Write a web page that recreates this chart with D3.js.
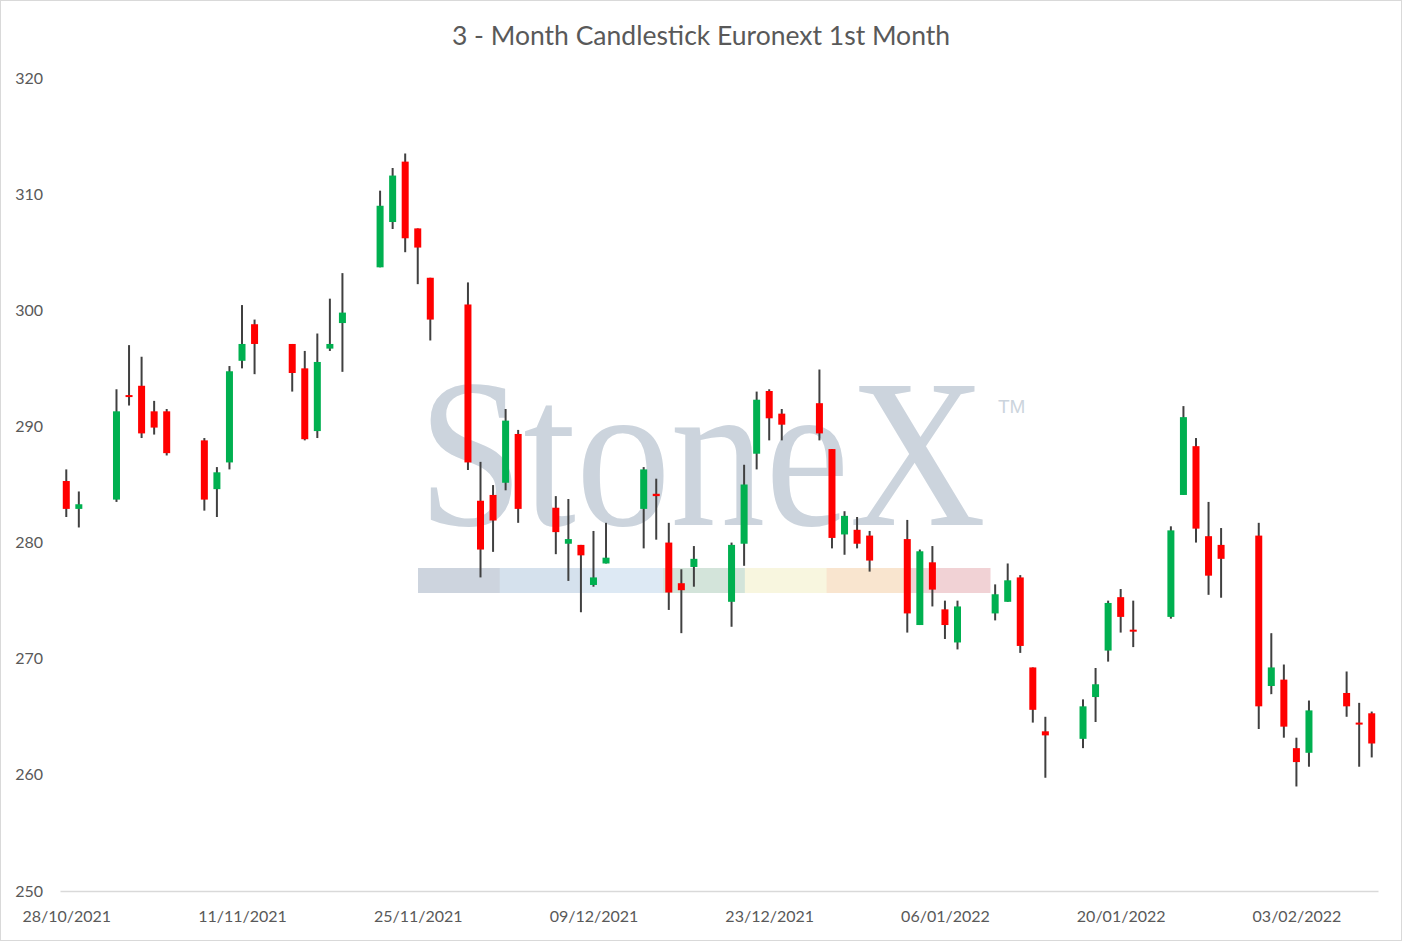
<!DOCTYPE html>
<html>
<head>
<meta charset="utf-8">
<script src="https://cdn.jsdelivr.net/npm/d3@7"></script>
<style>
  body { margin: 0; background: #fff; }
  svg { display: block; }
  .aText { font-family: Lato, "Open Sans", sans-serif; fill: #595959; }
</style>
</head>
<body>
<div id="chart"></div>
<script>
// daily candles
var dates = ["2021-10-28","2021-10-29","2021-11-01","2021-11-02","2021-11-03","2021-11-04","2021-11-05",
  "2021-11-08","2021-11-09","2021-11-10","2021-11-11","2021-11-12","2021-11-15","2021-11-16","2021-11-17",
  "2021-11-18","2021-11-19","2021-11-22","2021-11-23","2021-11-24","2021-11-25","2021-11-26","2021-11-29",
  "2021-11-30","2021-12-01","2021-12-02","2021-12-03","2021-12-06","2021-12-07","2021-12-08","2021-12-09",
  "2021-12-10","2021-12-13","2021-12-14","2021-12-15","2021-12-16","2021-12-17","2021-12-20","2021-12-21",
  "2021-12-22","2021-12-23","2021-12-24","2021-12-27","2021-12-28","2021-12-29","2021-12-30","2021-12-31",
  "2022-01-03","2022-01-04","2022-01-05","2022-01-06","2022-01-07","2022-01-10","2022-01-11","2022-01-12",
  "2022-01-13","2022-01-14","2022-01-17","2022-01-18","2022-01-19","2022-01-20","2022-01-21","2022-01-24",
  "2022-01-25","2022-01-26","2022-01-27","2022-01-28","2022-01-31","2022-02-01","2022-02-02","2022-02-03",
  "2022-02-04","2022-02-07","2022-02-08","2022-02-09"];

var openVals = [285.3,282.9,283.7,292.7,293.5,291.3,291.3,288.8,284.6,286.9,295.65,298.8,297.1,295.0,289.6,
  296.7,298.9,303.7,307.6,312.8,307.05,302.8,300.5,283.6,284.1,285.15,289.35,283.0,279.9,279.8,276.35,
  278.2,282.9,284.2,280.0,276.5,277.9,274.9,279.9,287.65,293.05,291.1,292.0,288.05,280.7,281.1,280.6,
  280.3,272.9,278.3,274.25,271.4,273.9,274.9,277.0,269.25,263.75,263.1,266.7,270.7,275.3,272.5,273.6,
  284.1,288.3,280.55,279.8,280.6,267.65,268.2,262.3,261.9,267.05,264.5,265.3];

var highVals = [286.3,284.4,293.2,297.0,296.0,292.2,291.5,289.0,286.5,295.2,300.45,299.2,297.1,296.5,298.0,
  301.0,303.2,310.3,312.25,313.5,307.05,302.8,302.4,286.95,284.95,291.5,289.7,284.0,283.75,279.8,281.0,
  281.7,286.5,285.5,281.7,277.7,279.7,280.0,286.7,293.0,293.2,291.5,294.9,288.05,282.7,282.2,281.0,
  281.95,279.4,279.7,275.0,275.0,276.4,278.2,277.2,269.25,265.0,266.5,269.2,275.0,276.0,275.0,281.4,
  291.75,289.0,283.5,281.25,281.7,272.2,269.5,263.2,266.4,268.9,266.2,265.45];

var lowVals = [282.2,281.3,283.5,291.8,289.0,289.3,287.5,282.75,282.2,286.3,295.0,294.5,293.0,288.8,289.0,
  296.5,294.7,303.7,307.0,305.0,302.25,297.4,286.25,277.0,279.2,284.5,281.7,279.0,276.7,274.0,276.2,
  278.2,279.5,280.25,274.2,272.2,276.2,272.75,278.0,286.3,288.8,288.8,288.8,279.5,278.95,279.5,277.5,
  272.25,272.9,274.5,271.7,270.8,273.3,274.9,270.5,264.5,259.75,262.3,264.55,269.75,272.25,271.0,273.45,
  284.1,280.0,275.5,275.25,263.95,266.95,263.2,259.0,260.7,265.0,260.7,261.5];

var closeVals = [282.9,283.3,291.3,292.6,289.4,289.9,287.7,283.7,286.05,294.75,297.1,297.1,294.6,288.9,295.55,
  297.1,299.8,309.0,311.6,306.2,305.4,299.2,286.9,279.4,281.9,290.5,282.9,280.9,280.3,278.9,277.0,
  278.7,286.3,284.0,275.7,275.9,278.6,279.8,285.0,292.3,290.7,290.15,289.4,280.4,282.3,279.9,278.45,
  273.9,279.25,275.95,272.9,274.5,275.55,276.75,271.1,265.6,263.4,265.9,267.8,274.8,273.6,272.35,281.05,
  290.8,281.2,277.15,278.6,265.9,269.25,264.15,261.1,265.55,265.9,264.35,262.7];

var yTicks = [250, 260, 270, 280, 290, 300, 310, 320];
var xTickDates = ["2021-10-28","2021-11-11","2021-11-25","2021-12-09","2021-12-23","2022-01-06","2022-01-20","2022-02-03"];

var width = 1402;
var height = 941;
var parseDate = d3.utcParse("%Y-%m-%d");

var candles = dates.map(function(d, i) {
  return { date: parseDate(d), open: openVals[i], high: highVals[i], low: lowVals[i], close: closeVals[i] };
});

var svg = d3.select("#chart")
    .append("svg")
    .attr("width", width)
    .attr("height", height);

svg.append("rect")
    .attr("x", 0.5).attr("y", 0.5)
    .attr("width", width - 1).attr("height", height - 1)
    .attr("fill", "#fff")
    .attr("stroke", "#d9d9d9");

// half a day of padding either side so the first/last candle sit centred in their slot
var x = d3.scaleUtc()
    .domain([d3.utcHour.offset(parseDate("2021-10-28"), -12), d3.utcHour.offset(parseDate("2022-02-09"), 12)])
    .range([60, 1378]);

var y = d3.scaleLinear()
    .domain([250, 320])
    .range([891, 78]);

svg.append("text")
    .attr("class", "aText")
    .attr("x", 701)
    .attr("y", 45)
    .attr("text-anchor", "middle")
    .style("font-size", "26.5px")
    .text("3 - Month Candlestick Euronext 1st Month");

// StoneX watermark behind the candles, squeezed horizontally
var wm = svg.append("g").attr("class", "watermark");
wm.append("g")
    .attr("transform", "translate(418,525) scale(0.893,1)")
    .append("text")
    .attr("x", 0)
    .attr("y", 0)
    .style("font-family", "'Liberation Serif', 'DejaVu Serif', serif")
    .style("font-size", "212px")
    .attr("fill", "#ccd4dd")
    .text("StoneX");
wm.append("text")
    .attr("x", 998)
    .attr("y", 413)
    .style("font-family", "'Liberation Sans', sans-serif")
    .style("font-size", "19px")
    .attr("fill", "#ccd4dd")
    .text("TM");

var bandColors = ["#cdd4de", "#d5e1ed", "#dde9f4", "#d3e4da", "#f8f6df", "#f9e5cf", "#f1d2d5"];
var bandX = d3.scaleBand().domain(d3.range(bandColors.length)).range([418, 990]);
wm.selectAll("rect.band")
    .data(bandColors)
    .enter()
    .append("rect")
    .attr("class", "band")
    .attr("x", function(d, i) { return bandX(i); })
    .attr("y", 568)
    .attr("width", bandX.bandwidth() + 0.5)
    .attr("height", 25)
    .attr("fill", function(d) { return d; });

// y axis labels (no gridlines, just the baseline)
svg.append("g")
    .attr("transform", "translate(43,0)")
    .call(d3.axisLeft(y).tickValues(yTicks).tickSize(0).tickPadding(0))
    .call(function(g) { g.select(".domain").remove(); })
    .selectAll("text")
    .attr("class", "aText")
    .style("font-size", "16px");

svg.append("g")
    .attr("transform", "translate(0,891)")
    .call(d3.axisBottom(x)
        .tickValues(xTickDates.map(parseDate))
        .tickFormat(d3.utcFormat("%d/%m/%Y"))
        .tickSize(0)
        .tickPadding(20))
    .call(function(g) {
      g.select(".domain").attr("stroke", "#d9d9d9").attr("stroke-width", 1.5);
    })
    .selectAll("text")
    .attr("class", "aText")
    .style("font-size", "16px");

var bodyW = 7;

var candle = svg.append("g")
    .selectAll("g")
    .data(candles)
    .enter()
    .append("g");

candle.append("line")
    .attr("x1", function(d) { return x(d.date); })
    .attr("x2", function(d) { return x(d.date); })
    .attr("y1", function(d) { return y(d.high); })
    .attr("y2", function(d) { return y(d.low); })
    .attr("stroke", "#404040")
    .attr("stroke-width", 2);

candle.append("rect")
    .attr("x", function(d) { return x(d.date) - bodyW / 2; })
    .attr("y", function(d) { return y(Math.max(d.open, d.close)); })
    .attr("width", bodyW)
    .attr("height", function(d) { return Math.max(2, Math.abs(y(d.open) - y(d.close))); })
    .attr("fill", function(d) { return d.close >= d.open ? "#00b050" : "#ff0000"; });
</script>
</body>
</html>
